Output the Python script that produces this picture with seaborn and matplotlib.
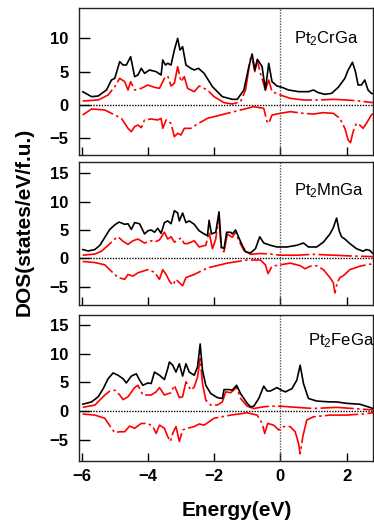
import matplotlib
matplotlib.use("Agg")
import matplotlib.pyplot as plt
import seaborn as sns
import numpy as np

# ---------------- data ----------------
# Pt2CrGa
cr_tot_e = [-5.97,-5.7,-5.5,-5.25,-5.1,-5.0,-4.85,-4.75,-4.65,-4.52,-4.4,-4.3,-4.2,-4.1,-3.95,-3.75,-3.6,-3.55,-3.47,-3.4,-3.3,-3.2,-3.1,-3.03,-2.95,-2.85,-2.7,-2.6,-2.47,-2.3,-2.05,-1.75,-1.45,-1.3,-1.1,-0.95,-0.85,-0.77,-0.69,-0.55,-0.45,-0.35,-0.25,-0.1,0.05,0.25,0.55,0.85,1.0,1.15,1.35,1.55,1.75,1.95,2.05,2.18,2.27,2.35,2.45,2.55,2.65,2.75,2.8]
cr_tot_v = [2.0,1.25,1.35,2.25,3.75,4.0,6.5,6.0,6.0,7.25,4.25,4.5,5.5,4.75,5.25,5.0,4.5,6.75,6.0,6.25,6.0,8.25,10.0,8.25,8.75,6.0,5.5,5.25,5.5,4.75,2.75,1.25,0.85,0.85,2.25,5.75,7.65,5.25,6.85,5.75,2.25,6.25,3.5,2.85,2.65,2.25,2.0,2.0,2.25,1.85,1.6,1.75,2.65,4.0,5.25,6.4,5.0,3.0,3.0,3.75,2.25,1.75,1.7]
cr_up_e = [-5.97,-5.5,-5.2,-5.0,-4.85,-4.7,-4.6,-4.52,-4.4,-4.2,-4.0,-3.8,-3.65,-3.5,-3.4,-3.3,-3.2,-3.1,-3.0,-2.9,-2.8,-2.6,-2.45,-2.2,-2.0,-1.7,-1.45,-1.2,-1.05,-0.9,-0.85,-0.77,-0.7,-0.6,-0.45,-0.35,-0.25,0.0,0.3,0.7,1.2,1.6,2.0,2.4,2.8]
cr_up_v = [0.6,0.75,1.5,2.75,4.0,3.5,2.25,3.5,2.25,2.5,3.0,2.65,2.5,4.0,4.35,2.85,3.25,5.75,3.5,4.25,2.5,2.0,2.85,2.25,1.25,0.35,0.15,0.5,2.25,7.0,7.0,5.0,6.75,4.75,2.25,3.75,2.0,1.5,1.0,0.75,0.75,0.85,0.75,0.6,0.35]
cr_dn_e = [-5.97,-5.7,-5.3,-5.0,-4.8,-4.6,-4.5,-4.4,-4.3,-4.2,-4.1,-3.9,-3.7,-3.6,-3.55,-3.45,-3.3,-3.2,-3.1,-3.0,-2.9,-2.7,-2.5,-2.2,-1.8,-1.2,-0.8,-0.5,-0.4,-0.35,-0.25,0.0,0.3,0.7,1.0,1.3,1.6,1.8,1.95,2.05,2.12,2.2,2.3,2.4,2.5,2.6,2.75,2.8]
cr_dn_v = [-1.5,-0.6,-0.75,-1.5,-2.0,-3.5,-4.0,-3.25,-3.0,-3.4,-2.25,-2.1,-2.25,-2.0,-3.5,-2.25,-2.75,-4.75,-4.25,-4.5,-3.5,-3.5,-2.85,-2.0,-1.5,-0.75,-0.25,-0.5,-2.5,-2.75,-1.5,-1.25,-1.0,-1.25,-1.35,-1.15,-1.25,-2.0,-3.5,-5.25,-5.65,-4.0,-2.75,-3.0,-3.5,-2.75,-1.5,-1.3]

# Pt2MnGa
mn_tot_e = [-5.97,-5.8,-5.6,-5.45,-5.3,-5.15,-5.0,-4.87,-4.7,-4.6,-4.5,-4.4,-4.25,-4.1,-4.0,-3.9,-3.8,-3.7,-3.6,-3.5,-3.4,-3.3,-3.2,-3.1,-3.05,-2.95,-2.85,-2.75,-2.6,-2.45,-2.3,-2.2,-2.15,-2.08,-1.95,-1.85,-1.78,-1.7,-1.62,-1.5,-1.45,-1.35,-1.25,-1.15,-1.05,-0.9,-0.75,-0.62,-0.5,-0.3,-0.1,0.2,0.5,0.7,0.85,1.1,1.3,1.5,1.6,1.7,1.78,1.85,1.95,2.1,2.3,2.5,2.6,2.7,2.8]
mn_tot_v = [1.55,1.3,1.55,2.3,3.7,5.1,5.9,6.4,6.0,6.1,5.1,6.3,6.1,4.3,4.85,5.0,4.6,5.3,4.4,6.3,6.6,6.1,8.4,8.0,6.6,8.0,6.3,6.6,6.0,4.85,4.3,4.0,6.7,4.3,4.6,8.2,2.0,1.7,4.6,4.6,4.3,5.0,3.6,2.3,1.15,0.95,1.7,3.8,2.7,2.3,2.0,2.0,2.3,2.7,2.0,2.0,2.85,4.3,5.4,7.1,4.85,3.8,3.4,2.6,1.7,1.25,1.55,1.4,0.85]
mn_up_e = [-5.97,-5.6,-5.4,-5.2,-5.0,-4.9,-4.75,-4.6,-4.45,-4.3,-4.1,-3.9,-3.8,-3.65,-3.5,-3.4,-3.3,-3.2,-3.0,-2.9,-2.8,-2.6,-2.45,-2.25,-2.15,-2.05,-1.95,-1.86,-1.78,-1.7,-1.6,-1.45,-1.35,-1.25,-1.1,-0.9,-0.6,-0.3,0.0,0.5,1.0,1.6,2.2,2.8]
mn_up_v = [0.55,0.75,1.25,2.3,3.4,3.8,3.0,2.45,3.1,3.4,2.7,3.1,2.85,3.25,4.6,3.4,3.8,2.85,3.6,2.6,2.6,3.1,2.0,2.3,4.6,1.7,3.4,7.4,1.4,1.15,4.3,3.7,4.6,3.1,1.4,0.7,0.85,0.75,0.55,0.55,0.7,0.55,0.4,0.3]
mn_dn_e = [-5.97,-5.6,-5.3,-5.1,-4.9,-4.7,-4.6,-4.45,-4.3,-4.0,-3.8,-3.65,-3.55,-3.45,-3.35,-3.25,-3.15,-3.05,-2.95,-2.85,-2.6,-2.2,-1.6,-1.0,-0.6,-0.45,-0.37,-0.25,0.0,0.3,0.6,0.75,0.9,1.1,1.3,1.5,1.6,1.65,1.72,1.8,1.9,2.1,2.4,2.6,2.75,2.8]
mn_dn_v = [-0.55,-0.75,-1.15,-2.3,-3.4,-3.7,-2.85,-3.15,-2.55,-2.0,-2.45,-3.7,-2.0,-2.85,-4.0,-4.75,-3.7,-4.3,-4.85,-3.4,-2.85,-1.7,-0.85,-0.3,-0.3,-1.15,-2.7,-1.4,-1.15,-0.85,-1.3,-1.85,-1.4,-1.3,-2.0,-3.4,-4.3,-6.1,-4.3,-3.4,-3.1,-2.0,-1.4,-1.15,-1.0,-0.9]

# Pt2FeGa
fe_tot_e = [-5.97,-5.7,-5.5,-5.35,-5.2,-5.05,-4.9,-4.75,-4.65,-4.5,-4.35,-4.25,-4.15,-4.0,-3.9,-3.8,-3.65,-3.5,-3.4,-3.35,-3.25,-3.15,-3.05,-2.95,-2.85,-2.75,-2.6,-2.5,-2.42,-2.35,-2.25,-2.1,-1.9,-1.75,-1.7,-1.55,-1.45,-1.32,-1.2,-1.0,-0.9,-0.8,-0.65,-0.5,-0.4,-0.3,-0.1,0.0,0.15,0.35,0.5,0.6,0.7,0.85,1.1,1.5,1.7,2.0,2.4,2.65,2.8]
fe_tot_v = [1.2,1.6,2.5,3.9,5.65,6.65,6.25,5.65,4.9,6.1,6.5,5.4,4.5,4.9,4.8,6.8,6.25,5.5,7.4,8.55,8.0,6.8,8.25,6.1,8.25,6.8,6.25,7.7,11.7,7.1,4.5,3.05,2.35,2.2,3.75,3.75,3.65,4.5,3.05,1.35,0.75,0.85,2.2,4.35,3.5,3.5,4.1,3.75,3.35,3.9,5.4,8.0,4.8,2.2,1.75,1.6,1.6,1.35,1.2,0.75,0.45]
fe_up_e = [-5.97,-5.6,-5.3,-5.15,-5.0,-4.85,-4.75,-4.6,-4.4,-4.3,-4.15,-3.9,-3.75,-3.65,-3.5,-3.3,-3.2,-3.05,-2.95,-2.85,-2.7,-2.6,-2.5,-2.42,-2.35,-2.25,-2.1,-1.9,-1.75,-1.65,-1.5,-1.32,-1.2,-1.0,-0.8,-0.5,-0.3,0.0,0.5,1.0,1.7,2.2,2.8]
fe_up_v = [0.65,1.05,2.8,3.5,3.65,2.8,2.0,2.5,4.1,4.5,2.8,2.8,3.35,4.1,2.8,3.2,4.5,2.35,2.5,5.1,3.65,4.2,5.95,9.15,4.8,1.9,1.05,1.05,1.6,3.35,3.2,4.1,2.2,0.85,0.45,0.75,0.85,0.85,0.65,0.45,0.65,0.45,0.2]
fe_dn_e = [-5.97,-5.6,-5.3,-5.1,-5.0,-4.85,-4.7,-4.55,-4.4,-4.2,-4.0,-3.85,-3.75,-3.65,-3.5,-3.4,-3.32,-3.25,-3.15,-3.05,-2.95,-2.8,-2.6,-2.45,-2.3,-2.0,-1.5,-1.0,-0.7,-0.55,-0.47,-0.38,-0.2,-0.05,0.1,0.3,0.45,0.55,0.6,0.68,0.8,1.0,1.5,2.0,2.5,2.8]
fe_dn_v = [-0.5,-0.7,-1.25,-3.0,-3.75,-3.6,-3.6,-2.6,-3.0,-2.15,-2.15,-2.7,-3.9,-2.45,-3.0,-4.45,-5.3,-3.9,-2.7,-5.3,-3.3,-3.0,-2.7,-2.25,-2.45,-1.25,-0.7,-0.3,-0.7,-2.15,-3.9,-2.15,-2.45,-3.3,-2.7,-2.7,-3.6,-5.6,-7.45,-4.45,-1.55,-1.0,-0.7,-0.7,-0.5,-0.3]

compounds = ["Pt$_\\mathregular{2}$CrGa", "Pt$_\\mathregular{2}$MnGa", "Pt$_\\mathregular{2}$FeGa"]
x_ticks = [-6, -4, -2, 0, 2]
y_ticks = [[-5, 0, 5, 10], [-5, 0, 5, 10, 15], [-5, 0, 5, 10, 15]]
x_label = "Energy(eV)"
y_label = "DOS(states/eV/f.u.)"

# ---------------- figure ----------------
sns.set_style("ticks")
plt.rcParams['font.family'] = ['Liberation Sans', 'DejaVu Sans']
plt.rcParams['mathtext.default'] = 'regular'
plt.rcParams['text.color'] = 'black'
plt.rcParams['xtick.color'] = 'black'
plt.rcParams['ytick.color'] = 'black'

W, H = 374, 522
fig = plt.figure(figsize=(W / 100, H / 100), dpi=100)

def frac(top, bottom, left=79, right=373):
    return [left / W, 1 - bottom / H, (right - left) / W, (bottom - top) / H]

rects = [frac(8, 155), frac(161.7, 305), frac(315, 461)]
ylims = [(-7.5, 14.55), (-8.24, 17.05), (-8.7, 16.75)]
label_pos = [(0.42, 9.9), (0.42, 12.0), (0.85, 12.3)]

data = [
    (cr_tot_e, cr_tot_v, cr_up_e, cr_up_v, cr_dn_e, cr_dn_v),
    (mn_tot_e, mn_tot_v, mn_up_e, mn_up_v, mn_dn_e, mn_dn_v),
    (fe_tot_e, fe_tot_v, fe_up_e, fe_up_v, fe_dn_e, fe_dn_v),
]

red_ls = (0, (20, 2, 1.5, 2))
for i, (rect, (te, tv, ue, uv, de, dv)) in enumerate(zip(rects, data)):
    ax = fig.add_axes(rect)
    ax.axhline(0, color='black', ls=(0, (1, 1)), lw=1.0, zorder=1)
    ax.axvline(0, color='#555555', ls=(0, (1, 1)), lw=1.0, zorder=1)
    sns.lineplot(x=ue, y=uv, ax=ax, color='red', lw=1.2, sort=False,
                 estimator=None, linestyle=red_ls, zorder=2)
    sns.lineplot(x=de, y=dv, ax=ax, color='red', lw=1.2, sort=False,
                 estimator=None, linestyle=red_ls, zorder=2)
    sns.lineplot(x=te, y=tv, ax=ax, color='black', lw=1.2, sort=False,
                 estimator=None, zorder=3)
    ax.set_xlim(-6.08, 2.8)
    ax.set_ylim(*ylims[i])
    ax.set_xticks(x_ticks)
    ax.set_yticks(y_ticks[i])
    ax.tick_params(axis='both', direction='in', width=1.0, labelsize=12)
    ax.tick_params(axis='y', length=8, pad=7.5)
    ax.tick_params(axis='x', length=6, pad=6)
    for lab in ax.get_yticklabels() + ax.get_xticklabels():
        lab.set_fontweight('bold')
    if i < 2:
        ax.set_xticklabels([])
    for s in ax.spines.values():
        s.set_linewidth(1.0)
        s.set_color('#222222')
    ax.set_xlabel('')
    ax.set_ylabel('')
    ax.text(label_pos[i][0], label_pos[i][1], compounds[i], fontsize=12,
            ha='left', va='center')

fig.text(24 / W, 1 - 222 / H, y_label, rotation=90, ha='center', va='center',
         fontsize=15, fontweight='bold')
fig.text(237 / W, 1 - 510 / H, x_label, ha='center', va='center',
         fontsize=15, fontweight='bold')

fig.savefig('out.png', dpi=100)
